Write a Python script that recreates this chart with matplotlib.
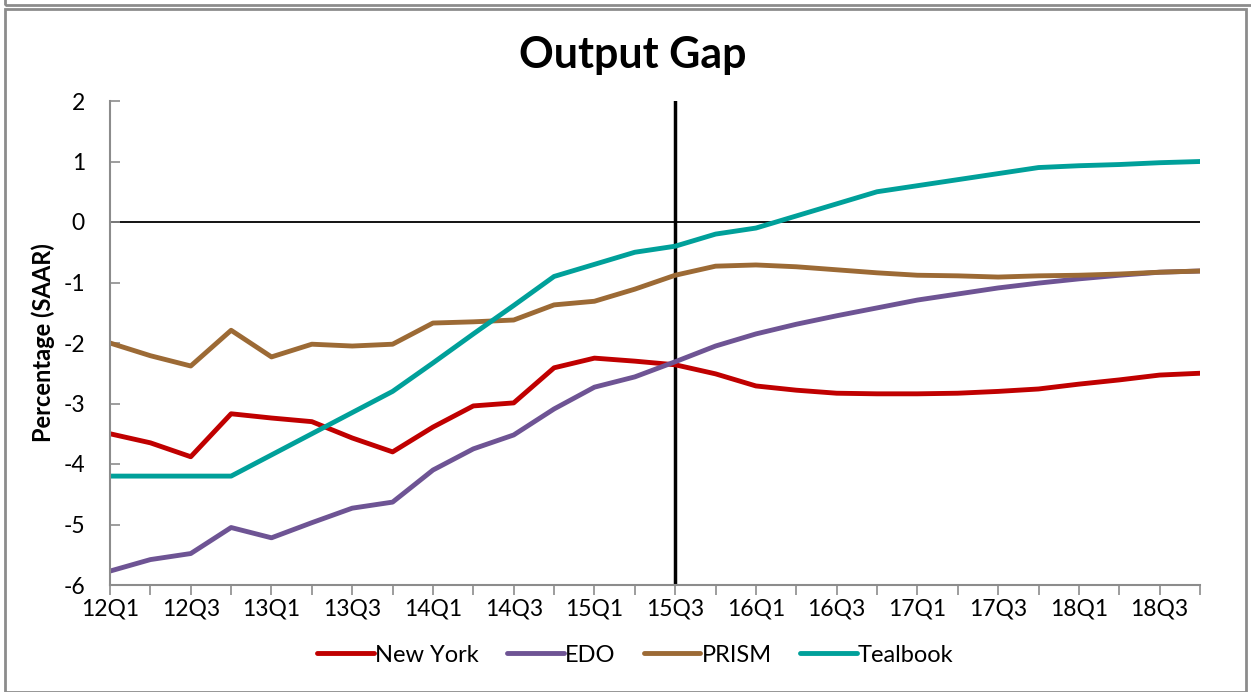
import matplotlib
matplotlib.use("Agg")
import matplotlib.pyplot as plt
from matplotlib.patches import Rectangle

plt.rcParams["font.family"] = ["Lato", "DejaVu Sans"]

quarters = [f"{y}Q{q}" for y in range(12, 19) for q in range(1, 5)]

new_york = [-3.50, -3.65, -3.88, -3.17, -3.24, -3.30, -3.57, -3.80, -3.39, -3.04,
            -2.99, -2.41, -2.25, -2.30, -2.36, -2.51, -2.71, -2.78, -2.83, -2.84,
            -2.84, -2.83, -2.80, -2.76, -2.68, -2.61, -2.53, -2.50]
edo = [-5.77, -5.58, -5.48, -5.05, -5.22, -4.97, -4.73, -4.63, -4.10, -3.75,
       -3.52, -3.09, -2.73, -2.56, -2.31, -2.05, -1.85, -1.69, -1.55, -1.42,
       -1.29, -1.19, -1.09, -1.01, -0.94, -0.88, -0.83, -0.81]
prism = [-2.00, -2.21, -2.38, -1.79, -2.23, -2.02, -2.05, -2.02, -1.67, -1.65,
         -1.62, -1.37, -1.31, -1.11, -0.88, -0.73, -0.71, -0.74, -0.79, -0.84,
         -0.88, -0.89, -0.91, -0.89, -0.88, -0.86, -0.83, -0.81]
tealbook = [-4.20, -4.20, -4.20, -4.20, -3.85, -3.50, -3.15, -2.80, -2.33, -1.85,
            -1.38, -0.90, -0.70, -0.50, -0.40, -0.20, -0.10, 0.10, 0.30, 0.50,
            0.60, 0.70, 0.80, 0.90, 0.93, 0.95, 0.98, 1.00]

series = [("New York", new_york, "#C00000"),
          ("EDO", edo, "#6E5494"),
          ("PRISM", prism, "#9C6A35"),
          ("Tealbook", tealbook, "#00A09A")]

fig = plt.figure(figsize=(12.51, 6.92), dpi=100)
fig.patches.append(Rectangle((5 / 1251, 0), 1 - 10 / 1251, 1 - 9 / 692,
                             transform=fig.transFigure, fill=False,
                             edgecolor="#8C8C8C", linewidth=2))
fig.patches.append(Rectangle((5 / 1251, 1 - 5 / 692), 1, 0.02,
                             transform=fig.transFigure, fill=False,
                             edgecolor="#8C8C8C", linewidth=2))

ax = fig.add_axes([110 / 1251, 1 - 585 / 692, 1090 / 1251, 484 / 692])

x = list(range(len(quarters)))
for name, vals, col in series:
    ax.plot(x, vals, color=col, linewidth=3.5, label=name, solid_capstyle="round")

ax.axhline(0, color="black", linewidth=1.3, zorder=1)
ax.plot([14, 14], [-6, 2], color="black", linewidth=2.5, zorder=1)

ax.set_xlim(0, len(quarters) - 1)
ax.set_ylim(-6, 2)
ax.set_yticks(range(-6, 3))
ax.set_yticklabels([str(v) for v in range(-6, 3)])
ax.set_xticks(x, minor=True)
ax.set_xticks(x[::2])
ax.set_xticklabels(quarters[::2])
ax.tick_params(labelsize=16.5)
ax.tick_params(axis="x", which="both", direction="out", length=7, color="#8C8C8C",
               width=1.2, pad=3)
ax.tick_params(axis="y", direction="in", length=7, color="#8C8C8C", width=1.2,
               pad=18)

for s in ["top", "right"]:
    ax.spines[s].set_visible(False)
for s in ["left", "bottom"]:
    ax.spines[s].set_color("#8C8C8C")
    ax.spines[s].set_linewidth(1.5)

ax.set_ylabel("Percentage (SAAR)", fontsize=17, fontweight="bold", labelpad=6)
fig.text(0.506, 0.921, "Output Gap", ha="center", va="center", fontsize=31,
         fontweight="bold")

ax.legend(loc="center", bbox_to_anchor=(0.482, -0.145), ncol=4, frameon=False,
          fontsize=17, handlelength=2.4, handletextpad=0.05, columnspacing=1.2)

fig.savefig("out.png", dpi=100)
